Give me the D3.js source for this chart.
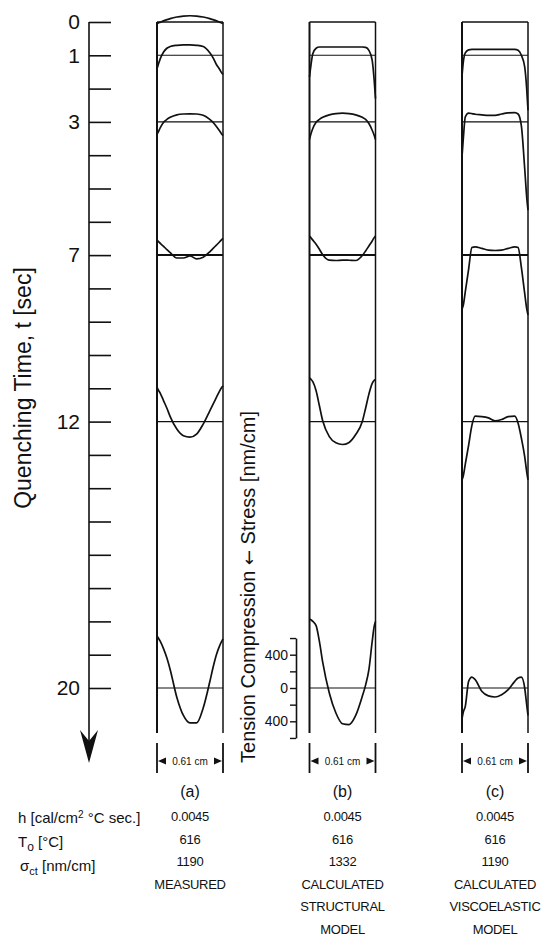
<!DOCTYPE html>
<html>
<head>
<meta charset="utf-8">
<script src="https://cdn.jsdelivr.net/npm/d3@7"></script>
<style>
  body { margin: 0; background: #fff; }
  svg { display: block; font-family: "Liberation Sans", Arial, Helvetica, sans-serif; }
</style>
</head>
<body>
<svg id="chart"></svg>
<script>
// quenching time axis (sec)
const timeTicks = d3.range(0, 21);
const timeLabels = [0, 1, 3, 7, 12, 20];

// position across the 0.61 cm plate, 0 = one surface, 1 = the other
const thickness = [0, 0.02, 0.05, 0.1, 0.15, 0.2, 0.3, 0.4, 0.5, 0.6, 0.7, 0.8, 0.85, 0.9, 0.95, 0.98, 1];

// stress profiles [nm/cm], compression positive, one row per time
const measuredTimes = [0, 1, 3, 7, 12, 20];
const measured = [
  [-20, -12, -3, 14, 28, 41, 60, 71, 75, 71, 60, 41, 28, 14, -3, -12, -20],
  [-160, -110, -40, 40, 85, 105, 120, 125, 125, 120, 105, 30, -30, -110, -170, -210, -230],
  [-150, -120, -70, -5, 30, 55, 85, 95, 97, 95, 80, 30, -5, -55, -110, -145, -165],
  [180, 165, 140, 105, 65, 30, -35, -35, -10, -45, -25, 40, 80, 120, 160, 185, 200],
  [410, 380, 340, 250, 160, 60, -90, -170, -187, -150, -30, 130, 210, 290, 370, 410, 430],
  [625, 600, 560, 470, 360, 220, -110, -330, -420, -420, -240, 75, 250, 400, 510, 560, 590]
];

const structuralTimes = [1, 3, 7, 12, 20];
const structural = [
  [-260, -130, 20, 85, 100, 100, 100, 100, 100, 100, 100, 100, 95, 60, -60, -300, -520],
  [-210, -150, -80, -5, 30, 55, 85, 100, 105, 100, 85, 55, 30, -20, -100, -160, -210],
  [230, 210, 180, 130, 70, 5, -60, -65, -60, -62, -65, -5, 50, 110, 170, 210, 230],
  [525, 510, 480, 370, 190, 10, -180, -255, -275, -250, -155, 0, 160, 330, 460, 495, 505],
  [830, 820, 800, 750, 560, 310, -60, -300, -430, -440, -330, -100, 35, 220, 560, 740, 800]
];

const viscoTimes = [1, 3, 7, 12, 20];
const viscoelastic = [
  [-250, -80, 30, 65, 72, 72, 72, 72, 72, 72, 72, 72, 60, 0, -140, -400, -660],
  [-420, -200, 60, 105, 100, 92, 85, 78, 78, 95, 108, 112, 95, -50, -560, -900, -1060],
  [-650, -600, -440, -170, 90, 100, 80, 60, 55, 60, 80, 100, 90, -150, -460, -640, -720],
  [-700, -650, -510, -285, -45, 65, 60, 45, 10, 25, 60, 65, -20, -200, -420, -600, -700],
  [-370, -290, -220, 80, 130, 100, -40, -95, -108, -80, -20, 80, 120, 130, 0, -200, -330]
];

const panelNames = ['(a)', '(b)', '(c)'];
const hValues = ['0.0045', '0.0045', '0.0045'];
const t0Values = ['616', '616', '616'];
const sigmaValues = ['1190', '1332', '1190'];
const methodLines = [
  ['MEASURED'],
  ['CALCULATED', 'STRUCTURAL', 'MODEL'],
  ['CALCULATED', 'VISCOELASTIC', 'MODEL']
];
const stressTicks = [-600, -400, -200, 0, 200, 400, 600];
const stressLabels = [-400, 0, 400];

const width = 542, height = 939;
const svg = d3.select('#chart').attr('width', width).attr('height', height);
svg.append('rect').attr('width', width).attr('height', height).attr('fill', '#fff');

const y = d3.scaleLinear().domain([0, 20]).range([22, 688]);
const secPx = y(1) - y(0);
// 400 nm/cm takes the same height as one second
const stressOff = d3.scaleLinear().domain([0, 400]).range([0, -secPx]);
const panelX = d3.scalePoint().domain(panelNames).range([190, 495]);
const panelW = 66;
const panelBottom = y(20) + 45;

// time axis
const axisX = 89;
const timeAxis = d3.axisLeft(y)
  .tickValues(timeTicks)
  .tickSize(-22)
  .tickSizeOuter(0)
  .tickPadding(9)
  .tickFormat(d => timeLabels.includes(d) ? d : '');
const tg = svg.append('g')
  .attr('transform', `translate(${axisX},0)`)
  .call(timeAxis);
tg.select('.domain').remove();
tg.selectAll('.tick line').attr('stroke', '#111').attr('stroke-width', 1.6);
tg.selectAll('.tick text')
  .attr('fill', '#111')
  .style('font-size', '21px')
  .style('font-family', '"Liberation Sans", Arial, sans-serif');

const arrowTip = y(20) + 75;
svg.append('line')
  .attr('x1', axisX).attr('x2', axisX)
  .attr('y1', y(0)).attr('y2', arrowTip - 20)
  .attr('stroke', '#111').attr('stroke-width', 1.6);
svg.append('path')
  .attr('d', `M${axisX},${arrowTip} L${axisX - 9},${arrowTip - 33} L${axisX},${arrowTip - 22} L${axisX + 9},${arrowTip - 33} Z`)
  .attr('fill', '#111');

svg.append('text')
  .attr('transform', `translate(31,388) rotate(-90)`)
  .attr('text-anchor', 'middle')
  .style('font-size', '23px')
  .attr('fill', '#111')
  .text('Quenching Time, t [sec]');

// panels
const panels = [
  { name: '(a)', times: measuredTimes, rows: measured },
  { name: '(b)', times: structuralTimes, rows: structural },
  { name: '(c)', times: viscoTimes, rows: viscoelastic }
];

panels.forEach((p, pi) => {
  const cx = panelX(p.name);
  const xs = d3.scaleLinear().domain([0, 1]).range([cx - panelW / 2, cx + panelW / 2]);
  const g = svg.append('g');

  // frame
  g.append('line')
    .attr('x1', xs(0)).attr('x2', xs(1))
    .attr('y1', y(0)).attr('y2', y(0))
    .attr('stroke', '#111').attr('stroke-width', 1.3);
  [0, 1].forEach(side => {
    g.append('line')
      .attr('x1', xs(side)).attr('x2', xs(side))
      .attr('y1', y(0)).attr('y2', panelBottom)
      .attr('stroke', '#111').attr('stroke-width', side === 0 ? 2 : 1.5);
  });

  // zero-stress lines
  g.selectAll('line.base')
    .data(timeLabels.filter(t => t > 0))
    .enter().append('line')
    .attr('class', 'base')
    .attr('x1', xs(0)).attr('x2', xs(1))
    .attr('y1', d => y(d)).attr('y2', d => y(d))
    .attr('stroke', '#111')
    .attr('stroke-width', d => d === 7 ? 2 : 1.1);

  // stress profiles
  g.selectAll('path.profile')
    .data(p.rows)
    .enter().append('path')
    .attr('class', 'profile')
    .attr('fill', 'none')
    .attr('stroke', '#111')
    .attr('stroke-width', 1.7)
    .attr('stroke-linejoin', 'round')
    .attr('d', (row, ri) => d3.line()
      .x((d, i) => xs(thickness[i]))
      .y(d => y(p.times[ri]) + stressOff(d))
      .curve(d3.curveMonotoneX)(row));

  // thickness marker
  const my0 = panelBottom + 10, my1 = panelBottom + 40, my = panelBottom + 28;
  [0, 1].forEach(side => {
    g.append('line')
      .attr('x1', xs(side)).attr('x2', xs(side))
      .attr('y1', my0).attr('y2', my1)
      .attr('stroke', '#111').attr('stroke-width', 1.8);
  });
  g.append('path')
    .attr('d', `M${xs(0) + 1},${my} L${xs(0) + 9},${my - 3.5} L${xs(0) + 9},${my + 3.5} Z`)
    .attr('fill', '#111');
  g.append('path')
    .attr('d', `M${xs(1) - 1},${my} L${xs(1) - 9},${my - 3.5} L${xs(1) - 9},${my + 3.5} Z`)
    .attr('fill', '#111');
  g.append('text')
    .attr('x', cx).attr('y', my + 3.5)
    .attr('text-anchor', 'middle')
    .style('font-size', '10px')
    .attr('fill', '#111')
    .text('0.61 cm');

  // captions
  g.append('text')
    .attr('x', cx).attr('y', 797)
    .attr('text-anchor', 'middle')
    .style('font-size', '16px')
    .attr('fill', '#111')
    .text(p.name);

  const vals = [hValues[pi], t0Values[pi], sigmaValues[pi]].concat(methodLines[pi]);
  g.selectAll('text.val')
    .data(vals)
    .enter().append('text')
    .attr('class', 'val')
    .attr('x', cx)
    .attr('y', (d, i) => 821 + i * 22.6)
    .attr('text-anchor', 'middle')
    .style('font-size', '13px')
    .style('letter-spacing', '-0.3px')
    .attr('fill', '#111')
    .text(d => d);
});

// stress scale
const stressY = d3.scaleLinear()
  .domain([-600, 600])
  .range([y(20) + stressOff(-600), y(20) + stressOff(600)]);
const sg = svg.append('g')
  .attr('transform', 'translate(296,0)')
  .call(d3.axisLeft(stressY)
    .tickValues(stressTicks)
    .tickSize(6)
    .tickSizeOuter(0)
    .tickPadding(2)
    .tickFormat(d => stressLabels.includes(d) ? Math.abs(d) : ''));
sg.select('.domain').attr('stroke', '#111').attr('stroke-width', 1.6);
sg.selectAll('.tick line').attr('stroke', '#111').attr('stroke-width', 1.4);
sg.selectAll('.tick text')
  .attr('fill', '#111')
  .style('font-size', '14px')
  .style('font-family', '"Liberation Sans", Arial, sans-serif');

const stressLab = svg.append('text')
  .attr('transform', 'translate(255,587) rotate(-90)')
  .attr('text-anchor', 'middle')
  .style('font-size', '20px')
  .attr('fill', '#111');
stressLab.append('tspan').text('Tension Compression ');
stressLab.append('tspan').style('font-family', '"DejaVu Sans", sans-serif').style('font-size', '18px').text('\u2190');
stressLab.append('tspan').text(' Stress [nm/cm]');

// row labels
const rows = svg.append('g').style('font-size', '15px').attr('fill', '#111');
const hLab = rows.append('text').attr('x', 18).attr('y', 823);
hLab.append('tspan').text('h [cal/cm');
hLab.append('tspan').attr('dy', -5).style('font-size', '10px').text('2');
hLab.append('tspan').attr('dy', 5).text(' \u00b0C sec.]');

const tLab = rows.append('text').attr('x', 18).attr('y', 847);
tLab.append('tspan').text('T');
tLab.append('tspan').attr('dy', 4).style('font-size', '12px').text('o');
tLab.append('tspan').attr('dy', -4).text(' [\u00b0C]');

const sLab = rows.append('text').attr('x', 20).attr('y', 871);
sLab.append('tspan').text('\u03c3');
sLab.append('tspan').attr('dy', 4).style('font-size', '11px').text('ct');
sLab.append('tspan').attr('dy', -4).text(' [nm/cm]');
</script>
</body>
</html>
